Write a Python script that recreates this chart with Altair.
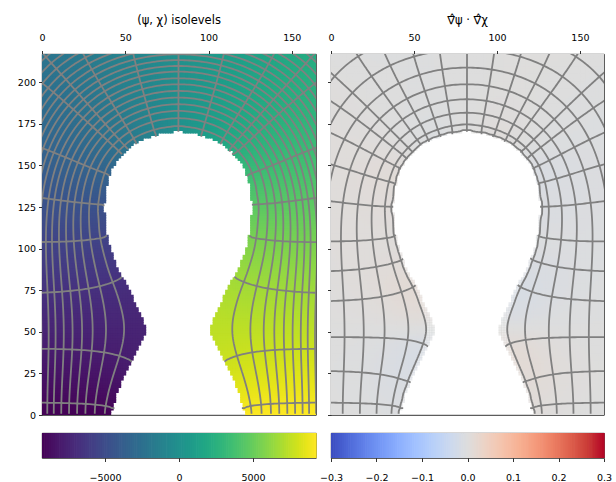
import numpy as np
import pandas as pd
import altair as alt
from collections import defaultdict

alt.data_transformers.disable_max_rows()

# ---- cavity outline: half-width at given heights, symmetric about HOLE_XC ----
HOLE_XC = 81.8
HOLE_Y = [0, 12.4, 25, 36.4, 50, 56.5, 64.5, 75, 86.5, 100, 110.5, 124.5,
          136.5, 148.5, 158.6, 164.6, 167.5, 169.5, 170.5]
HOLE_HW = [40.5, 37, 32, 26, 19, 21, 25, 29, 36, 41, 43.4, 44.6,
           43.4, 40, 32, 24, 16.5, 9.5, 0]

X_MAX, Y_MAX = 164.5, 217.0
WALL_HALF = 131.0      # psi = 1 on the side walls |x - HOLE_XC| = WALL_HALF ...
WALL_TOP = 262.0       # ... and on the lid y = WALL_TOP
CHI_MAX = 9260.0
DOT_MAX = 0.3

# ---- isolevel anchors ----
# psi: height above the cavity crown along x = HOLE_XC
PSI_LEFT_D = [3.2, 7.9, 12.3, 16.3, 20.3, 24.3, 28.3, 31.9, 35.9, 39.3, 42.8,
              46.3, 49.8, 53.3, 56.8, 60.3, 63.8, 67.3, 70.8, 74.3, 77.8, 81.3, 84.8, 88.0]
PSI_RIGHT_D = [0.8, 4.2, 11.2, 19.3, 28.3, 38.3, 49.3, 61.3, 74.3, 88.0]
# chi: heights where the line meets x = 0, then x where it meets y = Y_MAX
CHI_LEFT_WALL = [7.4, 39.8, 73.5, 104.0, 130.5, 160.5, 199.6]
CHI_LEFT_TOP = [0.8, 24.8, 54.8]
CHI_RIGHT_WALL = [7.4, 26.4, 46.8, 68.5, 86.5, 104.4, 128.5, 150.6, 169.5, 188.6, 205.6]
CHI_RIGHT_TOP = [15.5, 32.5, 49.6, 65.7]

COOLWARM = ["#3b4cc0", "#4d68d7", "#6282ea", "#779af7", "#8db0fe", "#a3c2ff",
            "#b8d0f9", "#ccd9ee", "#dddddd", "#ecd3c5", "#f5c4ad", "#f7b194",
            "#f49a7b", "#ec7f63", "#de604d", "#cb3e38", "#b40426"]

# ---- grid ----
H = 1.5
gx = np.arange(-54.0, 219.0 + 1e-9, H)
gy = (np.arange(0, 178) + 0.5) * H
XX, YY = np.meshgrid(gx, gy)
hole = (YY <= HOLE_Y[-1]) & (np.abs(XX - HOLE_XC) < np.interp(YY, HOLE_Y, HOLE_HW))

# distance to the cavity wall (mirrored below y = 0)
by = np.arange(-170.5, 170.51, 0.5)
bw = np.interp(np.abs(by), HOLE_Y, HOLE_HW)
bx = np.concatenate([HOLE_XC - bw, HOLE_XC + bw])
byy = np.concatenate([by, by])
dist = np.empty_like(XX)
for j in range(len(gy)):
    dx = XX[j][:, None] - bx[None, :]
    dy = YY[j][:, None] - byy[None, :]
    dist[j] = np.sqrt((dx * dx + dy * dy).min(axis=1))
outer = ~hole & ((np.abs(XX - HOLE_XC) >= WALL_HALF) | (YY >= WALL_TOP))
field = ~hole & ~outer


def relax(val, free, wN, wS, wE, wW, src, diag, iters, omega=1.93):
    jj, ii = np.indices(val.shape)
    masks = [free & ((ii + jj) % 2 == 0), free & ((ii + jj) % 2 == 1)]
    for _ in range(iters):
        for m in masks:
            p = np.pad(val, 1, mode="edge")
            s = (wN * p[2:, 1:-1] + wS * p[:-2, 1:-1] + wE * p[1:-1, 2:]
                 + wW * p[1:-1, :-2] + src) / diag
            val = np.where(m, val + omega * (s - val), val)
    return val


def shifted(m):
    f = m.astype(float)
    N = np.zeros_like(f); N[:-1] = f[1:]
    S = np.zeros_like(f); S[1:] = f[:-1]
    E = np.zeros_like(f); E[:, :-1] = f[:, 1:]
    W = np.zeros_like(f); W[:, 1:] = f[:, :-1]
    return N, S, E, W


bottom = np.zeros_like(XX); bottom[0] = 1.0

# psi: 0 on the cavity, 1 on the walls and lid, no flux through y = 0
ones = np.ones_like(XX)
wS_psi = ones - bottom
psi0 = np.where(hole, 0.0, np.where(outer, 1.0, np.clip(dist / 90.0, 0, 1)))
psi = relax(psi0, field, ones, wS_psi, ones, ones, 0.0, 3.0 + wS_psi, 2500)

# chi: conjugate coordinate, fixed at -1 / +1 on the two halves of y = 0
fN, fS, fE, fW = shifted(field)
fS = fS * (1 - bottom)
chib = np.where(XX < HOLE_XC, -1.0, 1.0)
src = 2.0 * chib * bottom
diag = np.maximum(fN + fS + fE + fW + 2.0 * bottom, 1.0)
chi0 = np.arctan2(XX - HOLE_XC, YY - 126.0) / np.pi
chi = relax(np.where(field, chi0, 0.0), field, fN, fS, fE, fW, src, diag, 3000)


def extend(F, known, layers):
    F = F.copy(); known = known.copy()
    out = []
    for _ in range(layers):
        p = np.pad(np.where(known, F, 0.0), 1)
        k = np.pad(known.astype(float), 1)
        ssum = p[2:, 1:-1] + p[:-2, 1:-1] + p[1:-1, 2:] + p[1:-1, :-2]
        cnt = k[2:, 1:-1] + k[:-2, 1:-1] + k[1:-1, 2:] + k[1:-1, :-2]
        new = ~known & (cnt > 0)
        F[new] = ssum[new] / cnt[new]
        known = known | new
        out.append(known.copy())
    return F, out


chi_ext, layers = extend(chi, field, 2)
chi_ok = layers[0]


def smooth(F, mask, passes):
    F = np.where(mask, F, 0.0)
    k = np.pad(mask.astype(float), 1)
    cnt = k[2:, 1:-1] + k[:-2, 1:-1] + k[1:-1, 2:] + k[1:-1, :-2] + mask
    for _ in range(passes):
        p = np.pad(F, 1)
        F = np.where(mask, (p[2:, 1:-1] + p[:-2, 1:-1] + p[1:-1, 2:] + p[1:-1, :-2] + F)
                     / np.maximum(cnt, 1), 0.0)
    return F


# orthogonality of the two coordinate gradients, taken away from the stair-stepped
# wall, carried out to it and smoothed
gpy, gpx = np.gradient(psi, H)
gcy, gcx = np.gradient(chi_ext, H)
dot = (gpx * gcx + gpy * gcy) / (np.hypot(gpx, gpy) * np.hypot(gcx, gcy) + 1e-12)
interior = field & (dist > 9.0)
dot, _ = extend(np.where(interior, dot, 0.0), interior, 10)
dot = np.clip(smooth(dot, field, 60), -DOT_MAX, DOT_MAX)


def sample(F, x, y):
    fi = (x - gx[0]) / H
    fj = (y - gy[0]) / H
    i = int(np.floor(fi)); j = int(np.floor(fj))
    ti = fi - i; tj = fj - j
    return (F[j, i] * (1 - ti) * (1 - tj) + F[j, i + 1] * ti * (1 - tj)
            + F[j + 1, i] * (1 - ti) * tj + F[j + 1, i + 1] * ti * tj)


crown = HOLE_Y[-1]
psi_levels_l = [sample(psi, HOLE_XC, crown + d) for d in PSI_LEFT_D]
psi_levels_r = [sample(psi, HOLE_XC, crown + d) for d in PSI_RIGHT_D]


def chi_levels(wall, top):
    half = [sample(chi, 0.0, y) for y in wall] + [sample(chi, x, Y_MAX) for x in top]
    return half + [0.0] + [-v for v in half]


chi_levels_l = chi_levels(CHI_LEFT_WALL, CHI_LEFT_TOP)
chi_levels_r = chi_levels(CHI_RIGHT_WALL, CHI_RIGHT_TOP)

# ---- marching squares on the part of the grid that is drawn ----
ci = np.nonzero((gx >= -3) & (gx <= X_MAX + 3))[0]
cj = np.nonzero(gy <= Y_MAX + 3)[0]
sx, sy = gx[ci], gy[cj]
sub = np.ix_(cj, ci)

EDGE_PAIRS = {}
for code in range(16):
    a_, b_, c_, d_ = code & 1, (code >> 1) & 1, (code >> 2) & 1, (code >> 3) & 1
    crossing = [e for e, (p, q) in enumerate([(a_, b_), (b_, c_), (d_, c_), (a_, d_)]) if p != q]
    if len(crossing) == 2:
        EDGE_PAIRS[code] = [tuple(crossing)]


def iso_lines(F, ok, level):
    a = F[:-1, :-1]; b = F[:-1, 1:]; c = F[1:, 1:]; d = F[1:, :-1]
    cell_ok = ok[:-1, :-1] & ok[:-1, 1:] & ok[1:, 1:] & ok[1:, :-1]
    code = ((a > level) * 1 + (b > level) * 2 + (c > level) * 4 + (d > level) * 8)
    js, is_ = np.nonzero(cell_ok & (code > 0) & (code < 15))
    segs = []
    for j, i in zip(js, is_):
        cd = int(code[j, i])
        keys = {0: ("h", j, i), 1: ("v", j, i + 1), 2: ("h", j + 1, i), 3: ("v", j, i)}
        if cd in (5, 10):
            centre = (a[j, i] + b[j, i] + c[j, i] + d[j, i]) / 4 > level
            pairs = [(0, 1), (3, 2)] if (cd == 5) == centre else [(0, 3), (1, 2)]
        else:
            pairs = EDGE_PAIRS[cd]
        for e1, e2 in pairs:
            segs.append((keys[e1], keys[e2]))

    def point(key):
        kind, j, i = key
        if kind == "h":
            f0, f1 = F[j, i], F[j, i + 1]
            t = (level - f0) / (f1 - f0)
            return sx[i] + t * H, sy[j]
        f0, f1 = F[j, i], F[j + 1, i]
        t = (level - f0) / (f1 - f0)
        return sx[i], sy[j] + t * H

    adj = defaultdict(list)
    for s, (k1, k2) in enumerate(segs):
        adj[k1].append(s); adj[k2].append(s)
    used = [False] * len(segs)
    lines = []
    starts = [k for k in adj if len(adj[k]) == 1] + list(adj.keys())
    for start in starts:
        for s in adj[start]:
            if used[s]:
                continue
            path = [start]; cur = start; seg = s
            while seg is not None:
                used[seg] = True
                k1, k2 = segs[seg]
                cur = k2 if k1 == cur else k1
                path.append(cur)
                seg = next((t for t in adj[cur] if not used[t]), None)
            lines.append([point(k) for k in path])
    return lines


def line_table(specs):
    rows = []
    n = 0
    for F, ok, levels in specs:
        for lv in levels:
            for pts in iso_lines(F, ok, lv):
                arr = np.array(pts)
                inside = ((arr[:, 0] >= 0) & (arr[:, 0] <= X_MAX) & (arr[:, 1] <= Y_MAX)).any()
                if len(arr) < 2 or not inside:
                    continue
                for o, (x, y) in enumerate(arr):
                    rows.append((n, o, round(float(x), 2), round(float(y), 2)))
                n += 1
    return pd.DataFrame(rows, columns=["k", "o", "x", "y"])


psi_s = psi[sub]
chi_s = chi_ext[sub]
psi_ok = np.ones_like(psi_s, dtype=bool)
lines_left = line_table([(psi_s, psi_ok, psi_levels_l), (chi_s, chi_ok[sub], chi_levels_l)])
lines_right = line_table([(psi_s, psi_ok, psi_levels_r), (chi_s, chi_ok[sub], chi_levels_r)])

# ---- cell tables for the two maps (cells overlap slightly so no seams show) ----
cell = field & (XX >= -1) & (XX <= X_MAX + 1) & (YY <= Y_MAX + 1)
cx, cy = XX[cell], YY[cell]
half = 1.05
cells_left = pd.DataFrame({
    "x0": np.round(cx - half, 2), "x1": np.round(cx + half, 2),
    "y0": np.round(cy - half, 2), "y1": np.round(cy + half, 2),
    "v": np.round(chi[cell] * CHI_MAX, 1)})
cells_right = pd.DataFrame({
    "x0": np.round(cx - half, 2), "x1": np.round(cx + half, 2),
    "y0": np.round(cy - half, 2), "y1": np.round(cy + half, 2),
    "v": np.round(dot[cell], 4),
    "op": np.where(psi[cell] < psi_levels_r[0], 0.6, 1.0)})

# ---- chart ----
FONT = "DejaVu Sans"
W_L, W_R, H_P = 274, 273, 361
xs = alt.Scale(domain=[0, X_MAX], nice=False, zero=False)
ys = alt.Scale(domain=[0, Y_MAX], nice=False, zero=False)
viridis = alt.Scale(scheme="viridis", domain=[-CHI_MAX, CHI_MAX], nice=False, zero=False)
coolwarm = alt.Scale(domain=list(np.round(np.linspace(-DOT_MAX, DOT_MAX, 17), 4)),
                     range=COOLWARM, interpolate="rgb", zero=False, nice=False)

x_axis = alt.Axis(orient="top", values=[0, 50, 100, 150], format="d", title=None,
                  grid=False, domain=False, tickSize=3.5, labelPadding=8, labelFlush=False)
y_ticks = list(range(0, 201, 25))
y_axis_l = alt.Axis(values=y_ticks, format="d", title=None, grid=False, domain=False,
                    tickSize=3.5, labelPadding=3)
y_axis_r = alt.Axis(values=y_ticks, labels=False, title=None, grid=False, domain=False,
                    tickSize=3.5)


def panel(cells, cscale, lines, y_axis, title, width, with_opacity=False):
    enc = dict(
        x=alt.X("x0:Q", scale=xs, axis=x_axis), x2="x1:Q",
        y=alt.Y("y0:Q", scale=ys, axis=y_axis), y2="y1:Q",
        color=alt.Color("v:Q", scale=cscale, legend=None))
    if with_opacity:
        enc["opacity"] = alt.Opacity("op:Q", scale=None, legend=None)
    heat = alt.Chart(cells).mark_rect(clip=True, strokeWidth=0).encode(**enc)
    iso = alt.Chart(lines).mark_line(clip=True, color="#808080", strokeWidth=1.8).encode(
        x=alt.X("x:Q", scale=xs, axis=x_axis),
        y=alt.Y("y:Q", scale=ys, axis=y_axis),
        detail="k:N", order="o:Q")
    return alt.layer(heat, iso).properties(
        width=width, height=H_P,
        title=alt.TitleParams(title, font=FONT, fontSize=11.5, fontWeight="normal",
                              anchor="middle", offset=6, color="black"))


def colorbar(lo, hi, cscale, ticks, fmt, width):
    edges = np.linspace(lo, hi, 129)
    df = pd.DataFrame({"a": edges[:-1], "b": edges[1:] + (hi - lo) / 400,
                       "v": (edges[:-1] + edges[1:]) / 2})
    return alt.Chart(df).mark_rect(strokeWidth=0).encode(
        x=alt.X("a:Q", scale=alt.Scale(domain=[lo, hi], nice=False, zero=False),
                axis=alt.Axis(values=ticks, format=fmt, title=None, grid=False, domain=False,
                              tickSize=3.5, labelPadding=11, labelFlush=False)),
        x2="b:Q",
        color=alt.Color("v:Q", scale=cscale, legend=None),
    ).properties(width=width, height=25)


left = panel(cells_left, viridis, lines_left, y_axis_l, "(ψ, χ) isolevels", W_L)
right = panel(cells_right, coolwarm, lines_right, y_axis_r, "∇̂ψ · ∇̂χ", W_R, with_opacity=True)
cb_left = colorbar(-CHI_MAX, CHI_MAX, viridis, [-5000, 0, 5000], "d", W_L)
cb_right = colorbar(-DOT_MAX, DOT_MAX, coolwarm, [-0.3, -0.2, -0.1, 0.0, 0.1, 0.2, 0.3], ".1f", W_R)

top_row = alt.hconcat(left, right, spacing=15, bounds="flush").resolve_scale(color="independent")
bottom_row = alt.hconcat(cb_left, cb_right, spacing=15, bounds="flush").resolve_scale(color="independent")

chart = alt.vconcat(top_row, bottom_row, spacing=12).resolve_scale(
    color="independent"
).properties(
    padding={"left": 16, "top": 14, "right": 4, "bottom": 2},
    background="white",
).configure_view(
    stroke="black", strokeWidth=0.8
).configure_axis(
    labelFont=FONT, labelFontSize=9.5, labelColor="black",
    tickColor="black", tickWidth=0.8,
)

chart.save("out.html", embed_options={"renderer": "svg", "actions": False})
